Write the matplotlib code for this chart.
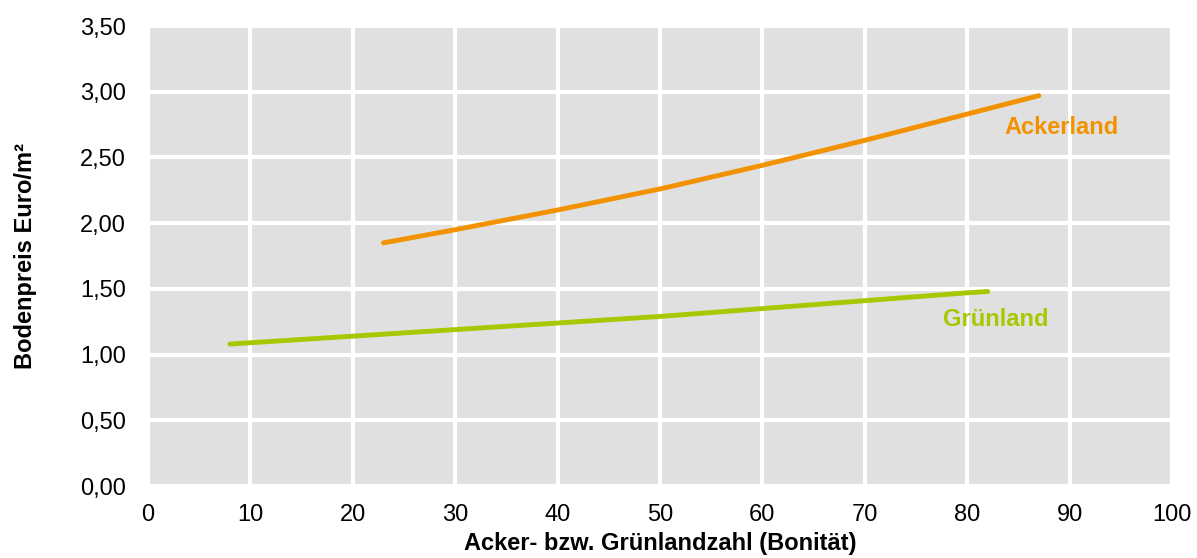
import matplotlib.pyplot as plt
from matplotlib.ticker import FuncFormatter

plt.rcParams['font.family'] = ['Liberation Sans', 'DejaVu Sans']

# Daten
acker_x = [23, 30, 40, 50, 60, 70, 80, 87]
acker_y = [1.85, 1.95, 2.10, 2.26, 2.44, 2.63, 2.83, 2.97]

gruen_x = [8, 20, 30, 40, 50, 60, 70, 80, 82]
gruen_y = [1.08, 1.14, 1.19, 1.24, 1.29, 1.35, 1.41, 1.47, 1.48]

x_ticks = list(range(0, 101, 10))
y_ticks = [0, 0.5, 1.0, 1.5, 2.0, 2.5, 3.0, 3.5]

orange = '#F39200'
gruen = '#A8C700'

fig = plt.figure(figsize=(11.97, 5.58), dpi=100)
ax = fig.add_axes([148 / 1197, 72 / 558, 1024 / 1197, 460 / 558])
ax.set_facecolor('#E0E0E0')

ax.plot(acker_x, acker_y, color=orange, linewidth=3.5, solid_capstyle='round')
ax.plot(gruen_x, gruen_y, color=gruen, linewidth=3.5, solid_capstyle='round')

ax.text(83.6, 2.73, 'Ackerland', color=orange, fontsize=17, fontweight='bold',
        va='center', ha='left')
ax.text(77.6, 1.27, 'Grünland', color=gruen, fontsize=17, fontweight='bold',
        va='center', ha='left')

ax.set_xlim(0, 100)
ax.set_ylim(0, 3.5)
ax.set_xticks(x_ticks)
ax.set_yticks(y_ticks)
ax.yaxis.set_major_formatter(FuncFormatter(lambda v, p: f'{v:.2f}'.replace('.', ',')))
ax.grid(True, color='white', linewidth=3)
ax.set_axisbelow(True)
for s in ax.spines.values():
    s.set_visible(False)
ax.tick_params(length=0, labelsize=17)
ax.tick_params(axis='x', pad=13)
ax.tick_params(axis='y', pad=16)

ax.set_xlabel('Acker- bzw. Grünlandzahl (Bonität)', fontsize=17, fontweight='bold', labelpad=4)
ax.set_ylabel('Bodenpreis Euro/m²', fontsize=17, fontweight='bold', labelpad=31)

fig.savefig('out.png', dpi=100)
